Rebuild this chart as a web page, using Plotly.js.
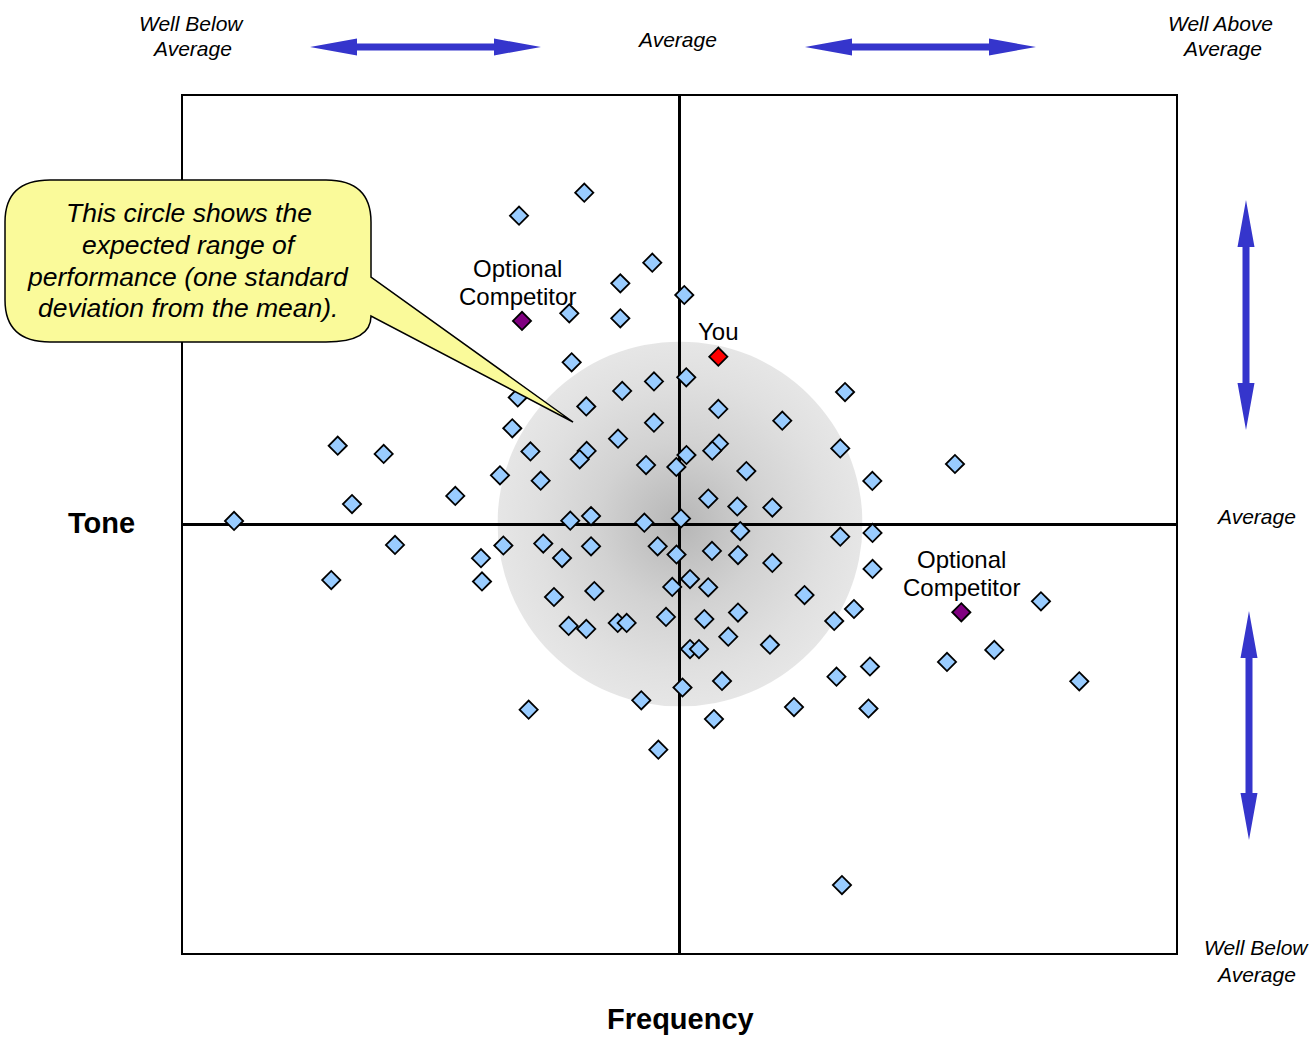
<!DOCTYPE html>
<html>
<head>
<meta charset="utf-8">
<script src="https://cdn.plot.ly/plotly-3.0.1.min.js"></script>
<style>html,body{margin:0;padding:0;background:#fff;}#chart{width:1316px;height:1038px;}</style>
</head>
<body>
<div id="chart"></div>
<script>
// ---- data (frequency = x, tone = y; 0 = average, +/-5 = plot edges) ----
const peerFrequency = [-0.959,-1.616,-0.274,-0.596,0.048,-1.110,-0.596,-1.086,0.068,-0.257,
  -0.577,-1.629,-0.939,0.391,1.667,1.035,-1.684,-0.257,-0.619,-1.501,
  -0.935,-1.005,0.398,0.330,1.619,0.070,-0.032,-0.337,0.673,2.774,
  -1.808,-1.398,1.942,-3.442,-2.979,-2.258,-3.298,0.290,0.582,0.935,
  -4.486,-1.100,-0.891,-0.354,0.015,0.612,1.619,1.944,-2.865,-1.774,
  -1.372,-0.891,-0.220,0.327,0.589,-1.999,-1.183,-0.030,0.935,1.944,
  -3.507,-1.989,0.106,0.289,-0.073,-1.264,-0.858,1.259,1.757,3.640,
  -0.136,0.250,0.589,1.558,-1.116,-0.939,-0.622,-0.532,0.491,0.911,
  0.106,0.196,3.170,1.918,2.694,1.581,0.428,0.030,4.026,-0.385,
  -1.519,1.153,1.903,0.347,-0.213,1.636];
const peerTone = [3.872,3.603,3.055,2.814,2.678,2.464,2.406,1.893,1.718,1.669,
  1.558,1.482,1.377,1.348,1.546,1.211,1.123,1.188,1.001,0.852,
  0.858,0.761,0.943,0.861,0.887,0.811,0.671,0.694,0.624,0.706,
  0.574,0.511,0.508,0.919,0.823,0.333,0.239,0.303,0.210,0.198,
  0.041,0.044,0.099,0.021,0.070,-0.076,-0.142,-0.099,-0.239,-0.245,
  -0.222,-0.254,-0.254,-0.309,-0.356,-0.393,-0.391,-0.350,-0.449,-0.519,
  -0.648,-0.665,-0.636,-0.733,-0.729,-0.846,-0.776,-0.823,-0.986,-0.896,
  -1.079,-1.103,-1.027,-1.126,-1.184,-1.219,-1.149,-1.149,-1.309,-1.403,
  -1.453,-1.453,-1.464,-1.657,-1.604,-1.776,-1.826,-1.902,-1.830,-2.051,
  -2.161,-2.130,-2.147,-2.270,-2.628,-4.207];
const youFrequency = [0.391];
const youTone = [1.958];
const competitorFrequency = [-1.586, 2.838];
const competitorTone = [2.375, -1.024];
const axisRange = [-5, 5];
const stdCenter = [0.005, 0.006];
const stdRadiusX = 1.838;
const stdRadiusY = 2.13;

// ---- helpers: page pixel -> paper coords ----
const L = 183, R = 1176, T = 96, B = 953;
const px = x => (x - L) / (R - L);
const py = y => (B - y) / (B - T);
function pathFrom(pts, close) {
  return pts.map((p, i) => (i === 0 ? 'M' : 'L') + px(p[0]).toFixed(5) + ',' + py(p[1]).toFixed(5)).join(' ') + (close ? ' Z' : '');
}
function arrow(x1, y1, x2, y2, head, hw, sw) {
  const dx = x2 - x1, dy = y2 - y1, len = Math.hypot(dx, dy);
  const ux = dx / len, uy = dy / len, nx = -uy, ny = ux;
  const P = (t, n) => [x1 + ux * t + nx * n, y1 + uy * t + ny * n];
  return pathFrom([P(0, 0), P(head, hw), P(head, sw), P(len - head, sw), P(len - head, hw), P(len, 0),
    P(len - head, -hw), P(len - head, -sw), P(head, -sw), P(head, -hw)], true);
}
const blue = '#3535cc';
const arrowStyle = {type: 'path', xref: 'paper', yref: 'paper', fillcolor: blue, line: {width: 0}, layer: 'above'};

// callout bubble
const q = (cx, cy, x, y) => 'Q' + px(cx).toFixed(5) + ',' + py(cy).toFixed(5) + ' ' + px(x).toFixed(5) + ',' + py(y).toFixed(5);
const Lp = (x, y) => 'L' + px(x).toFixed(5) + ',' + py(y).toFixed(5);
const bubblePath = 'M' + px(50).toFixed(5) + ',' + py(180).toFixed(5) + ' ' +
  Lp(326, 180) + ' ' + q(371, 180, 371, 222) + ' ' + Lp(371, 277) + ' ' + Lp(573, 422) + ' ' +
  Lp(371, 316) + ' ' + q(371, 342, 326, 342) + ' ' + Lp(50, 342) + ' ' + q(5, 342, 5, 300) + ' ' +
  Lp(5, 222) + ' ' + q(5, 180, 50, 180) + ' Z';

const shapes = [
  Object.assign({path: arrow(310, 47, 541, 47, 47, 8.5, 3.5)}, arrowStyle),
  Object.assign({path: arrow(805, 47, 1036, 47, 47, 8.5, 3.5)}, arrowStyle),
  Object.assign({path: arrow(1246, 200, 1246, 430, 47, 8.5, 3.5)}, arrowStyle),
  Object.assign({path: arrow(1249, 611, 1249, 840, 47, 8.5, 3.5)}, arrowStyle),
  {type: 'path', xref: 'paper', yref: 'paper', path: bubblePath, fillcolor: '#fafa9a', line: {color: '#000', width: 1.5}, layer: 'above'}
];

const FF = 'Liberation Sans, Arial, Helvetica, sans-serif';
function note(text, x, y, size, opts) {
  return Object.assign({xref: 'paper', yref: 'paper', x: px(x), y: py(y), xanchor: 'center', yanchor: 'middle',
    showarrow: false, text: text, font: {family: FF, size: size, color: '#000'}}, opts || {});
}
const it = s => '<i>' + s + '</i>';
const annotations = [
  note(it('Well Below'), 191, 23, 21), note(it('Average'), 192, 49, 21),
  note(it('Average'), 677, 39, 21),
  note(it('Well Above'), 1220, 23, 21), note(it('Average'), 1222, 49, 21),
  note(it('Average'), 1256, 516, 21),
  note(it('Well Below'), 1256, 947, 21), note(it('Average'), 1256, 974, 21),
  note('<b>Tone</b>', 101, 523, 29),
  note('<b>Frequency</b>', 680, 1019, 29),
  note(it('This circle shows the'), 189, 213, 26.5),
  note(it('expected range of'), 189, 245, 26.5),
  note(it('performance (one standard'), 188, 277, 26.5),
  note(it('deviation from the mean).'), 188, 308, 26.5),
  note('Optional', 517, 268, 24), note('Competitor', 517, 296, 24),
  note('Optional', 961, 559, 24), note('Competitor', 961, 587, 24),
  note('You', 718, 331, 24)
];

const gradSvg = '<svg xmlns="http://www.w3.org/2000/svg" width="400" height="400" viewBox="0 0 400 400">' +
  '<defs><radialGradient id="g" cx="50%" cy="50%" r="50%">' +
  '<stop offset="0%" stop-color="#b6b6b6"/><stop offset="45%" stop-color="#d2d2d2"/>' +
  '<stop offset="80%" stop-color="#e0e0e0"/><stop offset="100%" stop-color="#e6e6e6"/></radialGradient></defs>' +
  '<circle cx="200" cy="200" r="200" fill="url(#g)"/></svg>';
const gradSrc = 'data:image/svg+xml;charset=utf-8,' + encodeURIComponent(gradSvg);

const markerBase = {symbol: 'diamond', size: 14, line: {color: '#000', width: 1.8}};
const traces = [
  {x: peerFrequency, y: peerTone, type: 'scatter', mode: 'markers', cliponaxis: false,
   marker: Object.assign({color: '#99ccff'}, markerBase), hoverinfo: 'skip'},
  {x: competitorFrequency, y: competitorTone, type: 'scatter', mode: 'markers', cliponaxis: false,
   marker: Object.assign({color: '#800080'}, markerBase), hoverinfo: 'skip'},
  {x: youFrequency, y: youTone, type: 'scatter', mode: 'markers', cliponaxis: false,
   marker: Object.assign({color: '#ff0000'}, markerBase), hoverinfo: 'skip'}
];

const axisBase = {range: axisRange, showgrid: false, zeroline: true, zerolinecolor: '#000', zerolinewidth: 2.5,
  showline: true, mirror: true, linecolor: '#000', linewidth: 1.8, showticklabels: false, ticks: '', fixedrange: true};

const layout = {
  width: 1316, height: 1038,
  margin: {l: L, r: 1316 - R, t: T, b: 1038 - B, pad: 0},
  paper_bgcolor: '#fff', plot_bgcolor: '#fff',
  showlegend: false,
  xaxis: Object.assign({}, axisBase),
  yaxis: Object.assign({}, axisBase),
  images: [{source: gradSrc, xref: 'x', yref: 'y', x: stdCenter[0] - stdRadiusX, y: stdCenter[1] + stdRadiusY,
    sizex: 2 * stdRadiusX, sizey: 2 * stdRadiusY, sizing: 'stretch', xanchor: 'left', yanchor: 'top', layer: 'below'}],
  shapes: shapes,
  annotations: annotations
};

Plotly.newPlot('chart', traces, layout, {staticPlot: true, displayModeBar: false});
</script>
</body>
</html>
